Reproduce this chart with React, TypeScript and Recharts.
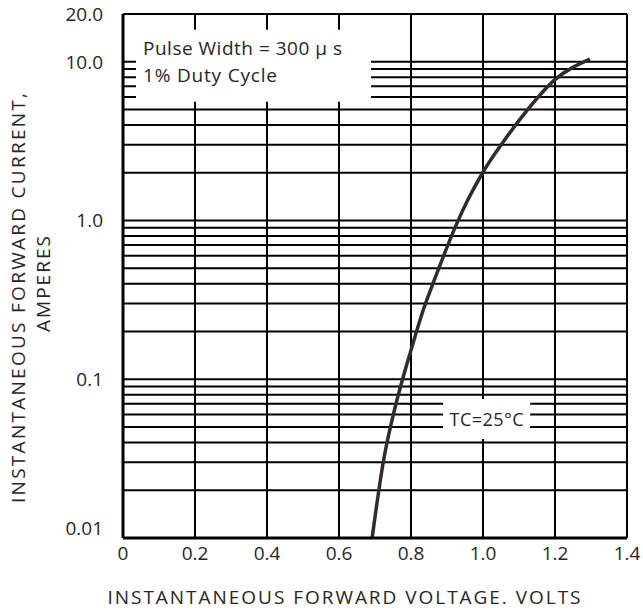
import { LineChart, Line, XAxis, YAxis, CartesianGrid, ReferenceArea } from 'recharts';

// forward voltage (V) vs forward current (A)
const voltage = [0.692, 0.724, 0.754, 0.776, 0.798, 0.834, 0.868, 0.928, 0.958, 0.999, 1.054, 1.108, 1.199, 1.297];
const current = [0.01, 0.031, 0.064, 0.099, 0.147, 0.273, 0.441, 0.966, 1.35, 2.0, 3.08, 4.5, 7.69, 10.4];

const xTicks = [0, 0.2, 0.4, 0.6, 0.8, 1.0, 1.2, 1.4];
const yTicks = [
    0.01, 0.02, 0.03, 0.04, 0.05, 0.06, 0.07, 0.08, 0.09,
    0.1, 0.2, 0.3, 0.4, 0.5, 0.6, 0.7, 0.8, 0.9,
    1, 2, 3, 4, 5, 6, 7, 8, 9,
    10, 20,
];
const yLabels: Record<string, string> = { '0.01': '0.01', '0.1': '0.1', '1': '1.0', '10': '10.0', '20': '20.0' };

const noteLines = ['Pulse Width = 300 \u00b5 s', '1%  Duty Cycle'];
const tempNote = 'TC=25\u00b0C';
const xTitle = 'INSTANTANEOUS FORWARD VOLTAGE. VOLTS';
const yTitle = ['INSTANTANEOUS FORWARD CURRENT,', 'AMPERES'];

const data = voltage.map((v, i) => ({ v, a: current[i] }));

const FONT = '"Open Sans", "DejaVu Sans", sans-serif';
const TEXT = '#262626';

// y tick labels; the bottom one sits a little above its line like in the original
const YTick = (props: any) => {
    const { x, y, payload } = props;
    const label = yLabels[String(payload.value)];
    if (!label) return null;
    const dy = payload.value === 0.01 ? -10 : 0;
    return (
        <text x={x} y={y + dy} dy="0.355em" textAnchor="end" fontSize={19} fill={TEXT} fontFamily={FONT}>
            {label}
        </text>
    );
};

export default function App() {
    return (
        <div style={{ position: 'absolute', left: 0, top: 0, background: '#fff' }}>
            <LineChart width={643} height={614} data={data} margin={{ top: 14, right: 16, bottom: 0, left: 0 }}>
                <CartesianGrid stroke="#000" strokeWidth={2} />
                <ReferenceArea
                    x1={0.036}
                    x2={0.689}
                    y1={5.6}
                    y2={15.9}
                    fill="#fff"
                    fillOpacity={1}
                    stroke="none"
                    label={() => (
                        <g fontSize={19} fill={TEXT} fontFamily={FONT}>
                            <text x={143} y={55} textLength={199} lengthAdjust="spacing">{noteLines[0]}</text>
                            <text x={143} y={82} textLength={134} lengthAdjust="spacing">{noteLines[1]}</text>
                        </g>
                    )}
                />
                <ReferenceArea
                    x1={0.889}
                    x2={1.131}
                    y1={0.042}
                    y2={0.075}
                    fill="#fff"
                    fillOpacity={1}
                    stroke="none"
                    label={(props: any) => {
                        const vb = props.viewBox || {};
                        return (
                            <text x={vb.x + vb.width / 2} y={vb.y + vb.height / 2 + 7} textAnchor="middle" fontSize={18} fill={TEXT} fontFamily={FONT} textLength={74} lengthAdjust="spacing">
                                {tempNote}
                            </text>
                        );
                    }}
                />
                <XAxis
                    dataKey="v"
                    type="number"
                    domain={[0, 1.4]}
                    ticks={xTicks}
                    height={76}
                    tickFormatter={(v: number) => (v === 0 ? '0' : v.toFixed(1))}
                    tickLine={false}
                    axisLine={{ stroke: '#000', strokeWidth: 3 }}
                    tick={{ fontSize: 19, fill: TEXT, fontFamily: FONT }}
                    tickMargin={3}
                    label={() => (
                        <text x={344} y={604} textAnchor="middle" fontSize={19} fill={TEXT} fontFamily={FONT} textLength={473} lengthAdjust="spacing">
                            {xTitle}
                        </text>
                    )}
                />
                <YAxis
                    type="number"
                    scale="log"
                    domain={[0.01, 20]}
                    allowDataOverflow
                    ticks={yTicks}
                    interval={0}
                    width={123}
                    tickLine={false}
                    axisLine={{ stroke: '#000', strokeWidth: 3 }}
                    tick={<YTick />}
                    tickMargin={14}
                    label={() => (
                        <g fontSize={19} fill={TEXT} fontFamily={FONT}>
                            <text x={25} y={298} transform="rotate(-90 25 298)" textAnchor="middle" textLength={410} lengthAdjust="spacing">
                                {yTitle[0]}
                            </text>
                            <text x={50} y={284} transform="rotate(-90 50 284)" textAnchor="middle" textLength={96} lengthAdjust="spacing">
                                {yTitle[1]}
                            </text>
                        </g>
                    )}
                />
                <Line dataKey="a" type="monotone" stroke="#332b2b" strokeWidth={3.5} dot={false} isAnimationActive={false} />
            </LineChart>
        </div>
    );
}
